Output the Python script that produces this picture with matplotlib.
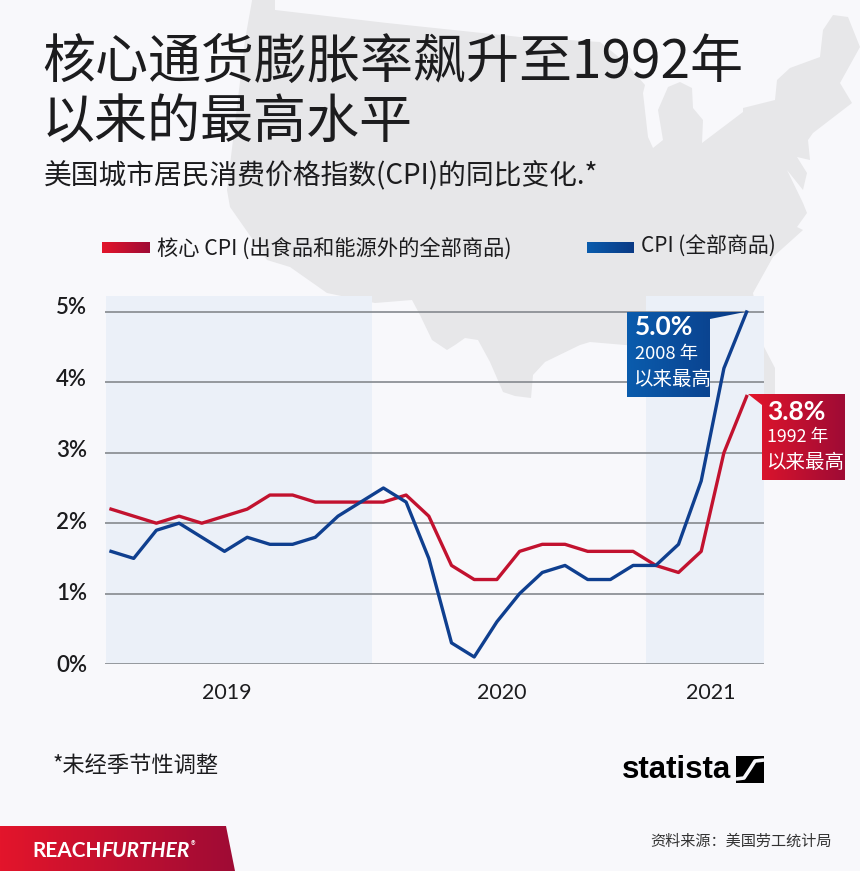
import numpy as np
import matplotlib
matplotlib.use("Agg")
import matplotlib.pyplot as plt
from matplotlib.patches import Polygon
from matplotlib.colors import LinearSegmentedColormap
from matplotlib.transforms import ScaledTranslation

plt.rcParams['font.family'] = ['Noto Sans CJK SC', 'DejaVu Sans']

# ---------- data ----------
months = list(range(29))  # Jan 2019 .. May 2021
core_cpi = [2.2, 2.1, 2.0, 2.1, 2.0, 2.1, 2.2, 2.4, 2.4, 2.3, 2.3, 2.3,
            2.3, 2.4, 2.1, 1.4, 1.2, 1.2, 1.6, 1.7, 1.7, 1.6, 1.6, 1.6,
            1.4, 1.3, 1.6, 3.0, 3.8]
all_cpi = [1.6, 1.5, 1.9, 2.0, 1.8, 1.6, 1.8, 1.7, 1.7, 1.8, 2.1, 2.3,
           2.5, 2.3, 1.5, 0.3, 0.1, 0.6, 1.0, 1.3, 1.4, 1.2, 1.2, 1.4,
           1.4, 1.7, 2.6, 4.2, 5.0]
y_ticks = [0, 1, 2, 3, 4, 5]
y_labels = ['0%', '1%', '2%', '3%', '4%', '5%']
year_positions = [5.11, 17.2, 26.4]
year_labels = ['2019', '2020', '2021']

W, H = 860, 871
BG = '#f8f8fb'
MAP = '#e7e7e9'
BAND = '#ebf0f8'
RED = '#c2122f'
BLUE = '#0f3f8f'
TXT = '#1c1c1e'

fig = plt.figure(figsize=(W / 100, H / 100), dpi=100, facecolor=BG)


def px_axes(z):
    a = fig.add_axes([0, 0, 1, 1], zorder=z)
    a.set_xlim(0, W)
    a.set_ylim(H, 0)
    a.axis('off')
    a.patch.set_alpha(0)
    return a


# ---------- background map ----------
bg = px_axes(0)
outline = [(253, -5), (275, -5), (275, 10), (387, 23), (520, 37), (600, 42), (625, 62), (645, 85),
           (643, 93), (648, 137), (653, 148), (663, 140), (658, 110), (668, 87), (680, 82),
           (692, 88), (693, 108), (703, 120), (702, 143), (743, 112), (743, 108), (775, 100),
           (777, 80), (790, 68), (820, 57), (823, 30), (833, 15), (848, 17), (860, 47),
           (840, 83), (852, 103), (813, 133), (808, 140), (810, 160), (797, 157), (807, 173),
           (803, 190), (787, 170), (803, 203), (807, 213), (797, 227), (803, 230), (773, 257),
           (753, 293), (763, 345), (775, 368), (775, 440), (768, 465), (755, 400), (745, 360),
           (700, 350), (625, 345), (590, 342), (580, 345), (545, 362), (533, 375), (531, 398),
           (515, 396), (503, 392), (490, 362), (478, 340), (465, 338), (455, 345), (447, 350),
           (432, 340), (420, 315), (412, 300), (375, 303), (327, 293), (290, 267), (267, 260),
           (230, 207), (227, 190), (245, 40)]
bg.add_patch(Polygon(outline, closed=True, fc=MAP, ec='none'))

# ---------- chart ----------
L, R, T, B = 105, 764, 296, 664
ax = fig.add_axes([L / W, 1 - B / H, (R - L) / W, (B - T) / H], zorder=1)
ax.patch.set_alpha(0)
x0, dx = 111.0, 22.7
ax.set_xlim((L - x0) / dx, (R - x0) / dx)
ax.set_ylim(0, (664 - 296) / 70.4)
ax.axvspan((L + 1 - x0) / dx, (372 - x0) / dx, fc=BAND, ec='none', zorder=0)
ax.axvspan((646 - x0) / dx, (R - x0) / dx, fc=BAND, ec='none', zorder=0)
ax.set_yticks(y_ticks)
ax.set_yticklabels(y_labels, fontsize=16, color=TXT, family=['Lato', 'DejaVu Sans'], fontweight='semibold')
ax.set_xticks(year_positions)
ax.set_xticklabels(year_labels, fontsize=15.5, color=TXT, family=['Lato', 'DejaVu Sans'])
ax.tick_params(axis='both', length=0)
ax.tick_params(axis='y', pad=13)
ax.tick_params(axis='x', pad=14)
for v, lab in zip(y_ticks, ax.get_yticklabels()):
    lab.set_transform(lab.get_transform() + ScaledTranslation(0, (1 + v) / 100, fig.dpi_scale_trans))
for s in ax.spines.values():
    s.set_visible(False)
ax.grid(axis='y', color='#85898e', lw=1.2, zorder=1)
ax.set_axisbelow(True)
ax.plot(months, core_cpi, color=RED, lw=2.4, solid_joinstyle='round', zorder=3, clip_on=False)
ax.plot(months, all_cpi, color=BLUE, lw=2.4, solid_joinstyle='round', zorder=4, clip_on=False)

# ---------- overlay: labels, legend, callouts ----------
ov = px_axes(2)


def grad_poly(points, c0, c1, z=3):
    cmap = LinearSegmentedColormap.from_list('g', [c0, c1])
    xs = [p[0] for p in points]
    ys = [p[1] for p in points]
    im = ov.imshow(np.linspace(0, 1, 128).reshape(1, -1), cmap=cmap, aspect='auto',
                   extent=[min(xs), max(xs), max(ys), min(ys)], zorder=z)
    im.set_clip_path(Polygon(points, closed=True, transform=ov.transData))


grad_poly([(102, 242), (150, 242), (150, 253), (102, 253)], '#e3152b', '#9f0b35')
grad_poly([(587, 242), (634, 242), (634, 253), (587, 253)], '#0a5cad', '#0a3a85')
grad_poly([(627, 312), (745, 312), (710, 319), (710, 397), (627, 397)], '#0a5cad', '#0a3a85')
grad_poly([(748, 394), (845, 394), (845, 480), (762, 480), (762, 405)], '#e3152b', '#9f0b35')
grad_poly([(0, 826), (226, 826), (235, 871), (0, 871)], '#e3152b', '#9f0b35')
ov.set_xlim(0, W)
ov.set_ylim(H, 0)


def t(x, y, s, size, color=TXT, **kw):
    kw.setdefault('va', 'center')
    ov.text(x, y, s, fontsize=size, color=color, zorder=5, **kw)


t(42, 62, '核心通货膨胀率飙升至1992年', 38.2)
t(42, 123, '以来的最高水平', 38.2)
t(44, 176, '美国城市居民消费价格指数(CPI)的同比变化.*', 20)
t(157, 249, '核心 CPI (出食品和能源外的全部商品)', 15.3)
t(641, 247, 'CPI (全部商品)', 15)

t(635, 327, '5.0%', 19, 'white', fontweight='bold', family=['Lato', 'DejaVu Sans'])
t(635, 354, '2008 年', 13.2, 'white')
t(633, 379, '以来最高', 14, 'white')
t(767, 412, '3.8%', 19, 'white', fontweight='bold', family=['Lato', 'DejaVu Sans'])
t(767, 437, '1992 年', 12.8, 'white')
t(766, 462, '以来最高', 14, 'white')

t(53, 765, '*未经季节性调整', 16)
t(650, 841, '资料来源：美国劳工统计局', 10.9, '#333333')

# logo
t(622, 770, 'statista', 22.5, '#000000', fontweight='bold', family=['Liberation Sans', 'DejaVu Sans'])
ov.add_patch(Polygon([(736, 756), (764, 756), (764, 783), (736, 783)], fc='black', ec='none', zorder=5))
sx = np.array([736, 744, 750, 755, 764])
sy = np.array([779, 778, 769, 761, 760])
ov.plot(sx, sy, color=BG, lw=2.6, zorder=6, solid_capstyle='butt')

# banner
brand = ['Lato', 'DejaVu Sans']
t(32, 851, 'REACH', 15, 'white', fontweight='bold', family=brand)
t(101, 851, 'FURTHER', 15, 'white', fontweight='bold', fontstyle='italic', family=brand)
t(191, 846, '®', 7, 'white')

fig.savefig('out.png', dpi=100, facecolor=BG)
